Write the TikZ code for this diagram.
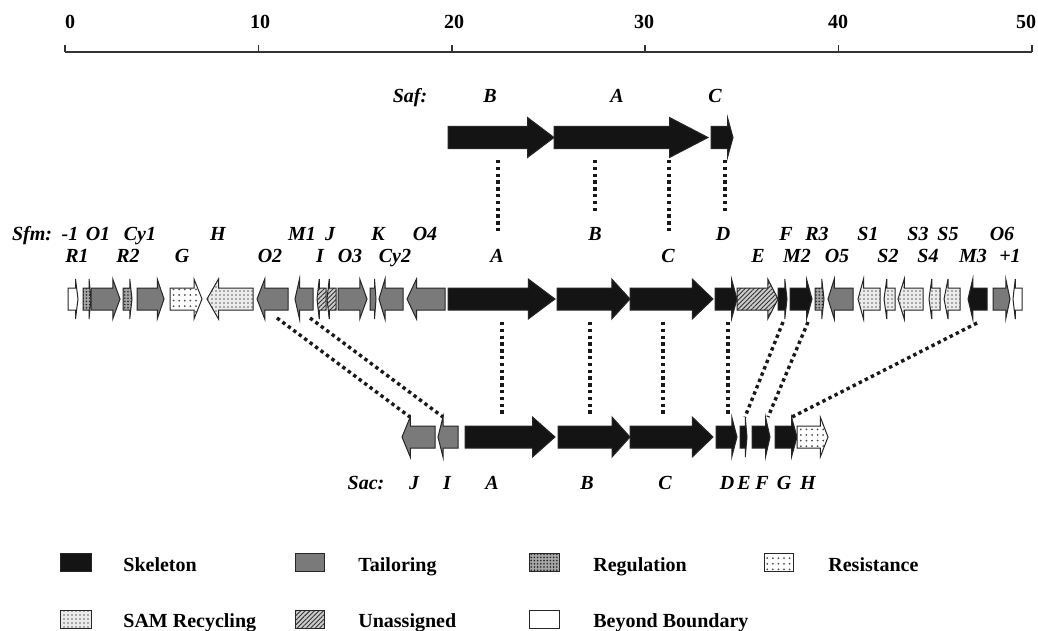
\documentclass[tikz,border=0pt]{standalone}
\usepackage{fontspec}
\setmainfont{Liberation Serif}
\usetikzlibrary{patterns.meta}

% gene arrow geometry (in pixel units)
\newcommand\gbody{11}
\newcommand\ghead{20}
% \genearrow{style}{start}{end}{centre y}{direction: 1 right, -1 left}
\newcommand\genearrow[5]{%
  \pgfmathsetmacro\gHL{0.25*(#3-#2)}%
  \ifnum#5=1
    \path[#1] (#2,#4-\gbody) -- (#3-\gHL,#4-\gbody) -- (#3-\gHL,#4-\ghead) -- (#3,#4)
      -- (#3-\gHL,#4+\ghead) -- (#3-\gHL,#4+\gbody) -- (#2,#4+\gbody) -- cycle;
  \else
    \path[#1] (#3,#4-\gbody) -- (#2+\gHL,#4-\gbody) -- (#2+\gHL,#4-\ghead) -- (#2,#4)
      -- (#2+\gHL,#4+\ghead) -- (#2+\gHL,#4+\gbody) -- (#3,#4+\gbody) -- cycle;
  \fi}

\tikzset{
  gline/.style={draw=black!85, line width=0.5pt},
  skel/.style={gline, fill=black!92},
  tail/.style={gline, fill=black!52},
  regu/.style={gline, preaction={fill=black!35}, pattern={Dots[distance=1.6pt, radius=0.45pt]}, pattern color=black!85},
  resi/.style={gline, preaction={fill=white}, pattern={Dots[distance=2.8pt, radius=0.5pt]}, pattern color=black!70},
  sam/.style={gline, preaction={fill=black!8}, pattern={Dots[distance=2pt, radius=0.4pt]}, pattern color=black!60},
  unas/.style={gline, preaction={fill=black!20}, pattern={Lines[angle=45, distance=1.6pt, line width=0.45pt]}, pattern color=black!80},
  beyond/.style={gline, fill=white},
  lbl/.style={font=\bfseries\itshape, anchor=base, inner sep=0pt},
  num/.style={font=\bfseries, anchor=base, inner sep=0pt},
  leg/.style={font=\bfseries, anchor=base west, inner sep=0pt},
  link/.style={line width=1.7pt, dash pattern=on 1.7pt off 1.7pt, black!90},
}

\begin{document}
\begin{tikzpicture}[x=0.5pt, y=-0.5pt]
\useasboundingbox (0,0) rectangle (1038,631);
\fill[white] (0,0) rectangle (1038,631);

% ---- kb scale ----
\draw[line width=0.8pt, black!80] (65,52) -- (1032,52);
\foreach \i/\lx in {0/70, 1/260, 2/454, 3/644, 4/838, 5/1026} {
  \pgfmathsetmacro\tx{65+193.4*\i}
  \pgfmathtruncatemacro\tv{10*\i}
  \draw[line width=0.8pt, black!80] (\tx,52) -- (\tx,45);
  \node[num] (tick\i) at (\lx,29) {\tv};
}

% ---- Saf cluster ----
\genearrow{skel}{448}{554}{137.5}{1}
\genearrow{skel}{554}{708}{137.5}{1}
\genearrow{skel}{711}{733}{137.5}{1}
\node[lbl] (saf) at (410,103) {Saf:};
\node[lbl] (safB) at (490,103) {B};
\node[lbl] (safA) at (617,103) {A};
\node[lbl] (safC) at (715,103) {C};

% ---- Sfm cluster ----
\genearrow{beyond}{68}{78}{299}{1}
\genearrow{regu}{83}{91}{299}{1}
\genearrow{tail}{91}{120}{299}{1}
\genearrow{regu}{123}{132}{299}{1}
\genearrow{tail}{137}{164}{299}{1}
\genearrow{resi}{170}{202}{299}{1}
\genearrow{sam}{207}{253}{299}{-1}
\genearrow{tail}{257}{288}{299}{-1}
\genearrow{tail}{295}{313}{299}{-1}
\genearrow{unas}{317}{326}{299}{-1}
\genearrow{unas}{327}{336}{299}{-1}
\genearrow{tail}{338}{367}{299}{1}
\genearrow{tail}{370}{376}{299}{1}
\genearrow{tail}{379}{403}{299}{-1}
\genearrow{tail}{407}{445}{299}{-1}
\genearrow{skel}{448}{555}{299}{1}
\genearrow{skel}{557}{630}{299}{1}
\genearrow{skel}{630}{713}{299}{1}
\genearrow{skel}{715}{737}{299}{1}
\genearrow{unas}{737}{778}{299}{1}
\genearrow{skel}{778}{787}{299}{1}
\genearrow{skel}{790}{812}{299}{1}
\genearrow{regu}{815}{824}{299}{1}
\genearrow{tail}{828}{853}{299}{-1}
\genearrow{sam}{858}{880}{299}{-1}
\genearrow{sam}{884}{895}{299}{-1}
\genearrow{sam}{898}{923}{299}{-1}
\genearrow{sam}{929}{940}{299}{-1}
\genearrow{sam}{944}{960}{299}{-1}
\genearrow{skel}{968}{987}{299}{-1}
\genearrow{tail}{993}{1010}{299}{1}
\genearrow{beyond}{1013}{1022}{299}{-1}

\node[lbl] (sfm) at (32,240) {Sfm:};
\node[lbl] (sfmm1) at (70,240) {-1};
\node[lbl] (sfmO1) at (98,240) {O1};
\node[lbl] (sfmCy1) at (140,240) {Cy1};
\node[lbl] (sfmH) at (218,240) {H};
\node[lbl] (sfmM1) at (302,240) {M1};
\node[lbl] (sfmJ) at (330,240) {J};
\node[lbl] (sfmK) at (378,240) {K};
\node[lbl] (sfmO4) at (425,240) {O4};
\node[lbl] (sfmB) at (595,240) {B};
\node[lbl] (sfmD) at (723,240) {D};
\node[lbl] (sfmF) at (786,240) {F};
\node[lbl] (sfmR3) at (817,240) {R3};
\node[lbl] (sfmS1) at (868,240) {S1};
\node[lbl] (sfmS3) at (918,240) {S3};
\node[lbl] (sfmS5) at (948,240) {S5};
\node[lbl] (sfmO6) at (1002,240) {O6};

\node[lbl] (sfmR1) at (77,262) {R1};
\node[lbl] (sfmR2) at (128,262) {R2};
\node[lbl] (sfmG) at (182,262) {G};
\node[lbl] (sfmO2) at (270,262) {O2};
\node[lbl] (sfmI) at (320,262) {I};
\node[lbl] (sfmO3) at (350,262) {O3};
\node[lbl] (sfmCy2) at (395,262) {Cy2};
\node[lbl] (sfmA) at (497,262) {A};
\node[lbl] (sfmC) at (668,262) {C};
\node[lbl] (sfmE) at (758,262) {E};
\node[lbl] (sfmM2) at (797,262) {M2};
\node[lbl] (sfmO5) at (837,262) {O5};
\node[lbl] (sfmS2) at (888,262) {S2};
\node[lbl] (sfmS4) at (928,262) {S4};
\node[lbl] (sfmM3) at (973,262) {M3};
\node[lbl] (sfmp1) at (1010,262) {+1};

% ---- Sac cluster ----
\genearrow{tail}{402}{435}{437}{-1}
\genearrow{tail}{438}{458}{437}{-1}
\genearrow{skel}{465}{555}{437}{1}
\genearrow{skel}{558}{630}{437}{1}
\genearrow{skel}{630}{713}{437}{1}
\genearrow{skel}{716}{737}{437}{1}
\genearrow{skel}{740}{747}{437}{1}
\genearrow{skel}{752}{770}{437}{1}
\genearrow{skel}{775}{797}{437}{1}
\genearrow{resi}{797}{828}{437}{1}

\node[lbl] (sac) at (366,489) {Sac:};
\node[lbl] (sacJ) at (414,489) {J};
\node[lbl] (sacI) at (447,489) {I};
\node[lbl] (sacA) at (492,489) {A};
\node[lbl] (sacB) at (587,489) {B};
\node[lbl] (sacC) at (665,489) {C};
\node[lbl] (sacD) at (727,489) {D};
\node[lbl] (sacE) at (744,489) {E};
\node[lbl] (sacF) at (762,489) {F};
\node[lbl] (sacG) at (784,489) {G};
\node[lbl] (sacH) at (808,489) {H};

% ---- homology links ----
\coordinate (safBb) at (498,160);  \coordinate (sfmAt) at (498,232);
\coordinate (safAb) at (595,160);  \coordinate (sfmBt) at (595,213);
\coordinate (safAh) at (669,160);  \coordinate (sfmCt) at (669,232);
\coordinate (safCb) at (725,160);  \coordinate (sfmDt) at (725,212);
\foreach \a/\b in {safBb/sfmAt, safAb/sfmBt, safAh/sfmCt, safCb/sfmDt}
  \draw[link] (\a) -- (\b);

\coordinate (sfmAb) at (502,322);  \coordinate (sacAt) at (502,417);
\coordinate (sfmBb) at (590,322);  \coordinate (sacBt) at (590,417);
\coordinate (sfmCb) at (663,322);  \coordinate (sacCt) at (663,417);
\coordinate (sfmDb) at (728,322);  \coordinate (sacDt) at (728,417);
\coordinate (sfmO2b) at (277,318); \coordinate (sacJt) at (410,417);
\coordinate (sfmM1b) at (310,318); \coordinate (sacIt) at (443,417);
\coordinate (sfmFb) at (783,322);  \coordinate (sacEt) at (745,417);
\coordinate (sfmM2b) at (808,322); \coordinate (sacFt) at (768,417);
\coordinate (sfmM3b) at (977,323); \coordinate (sacGt) at (792,417);
\foreach \a/\b in {sfmAb/sacAt, sfmBb/sacBt, sfmCb/sacCt, sfmDb/sacDt,
                   sfmO2b/sacJt, sfmM1b/sacIt, sfmFb/sacEt, sfmM2b/sacFt, sfmM3b/sacGt}
  \draw[link] (\a) -- (\b);

% ---- legend ----
\path[skel]   (60,553) rectangle (91,571);
\node[leg] (legSkel) at (123,571) {Skeleton};
\path[tail]   (295,553) rectangle (324,571);
\node[leg] (legTail) at (358,571) {Tailoring};
\path[regu]   (529,553) rectangle (559,571);
\node[leg] (legRegu) at (593,571) {Regulation};
\path[resi]   (764,553) rectangle (793,571);
\node[leg] (legResi) at (828,571) {Resistance};
\path[sam]    (60,610) rectangle (91,628);
\node[leg] (legSam) at (123,627) {SAM Recycling};
\path[unas]   (295,610) rectangle (324,628);
\node[leg] (legUnas) at (358,627) {Unassigned};
\path[beyond] (529,610) rectangle (559,628);
\node[leg] (legBeyond) at (593,627) {Beyond Boundary};
\end{tikzpicture}
\end{document}
